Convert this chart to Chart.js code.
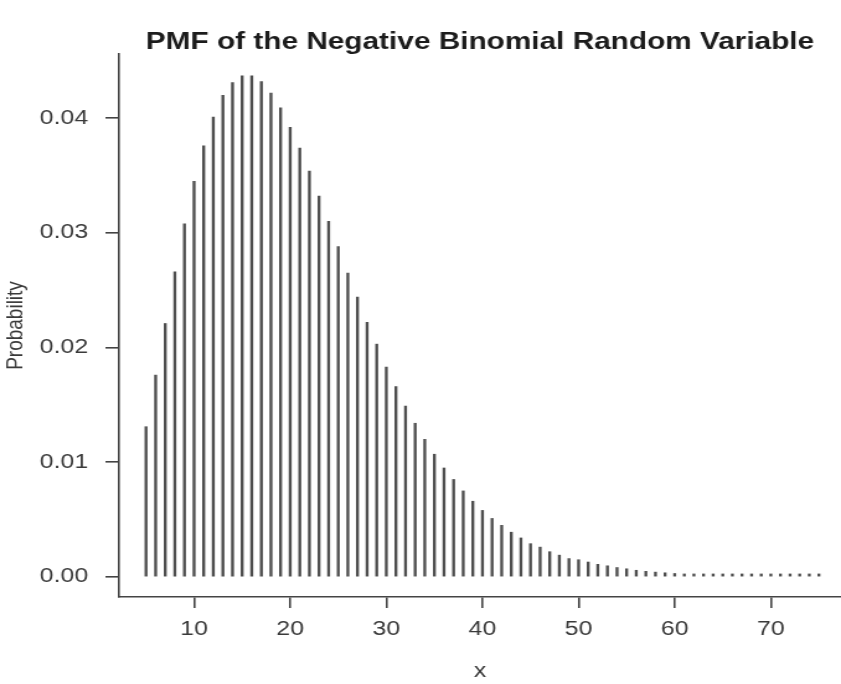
<!DOCTYPE html>
<html>
<head>
<meta charset="utf-8">
<script src="https://cdn.jsdelivr.net/npm/chart.js@4.4.1/dist/chart.umd.min.js"></script>
<style>
  html, body { margin: 0; padding: 0; background: #fff; overflow: hidden; }
</style>
</head>
<body>
<!-- the reference is a horizontally stretched R plot, so the canvas is drawn narrow and stretched -->
<canvas id="pmf" width="678" height="684" style="display:block;width:841px;height:684px"></canvas>
<script>
// values
const xValues = [5, 6, 7, 8, 9, 10, 11, 12, 13, 14, 15, 16, 17, 18, 19, 20,
  21, 22, 23, 24, 25, 26, 27, 28, 29, 30, 31, 32, 33, 34, 35, 36, 37, 38, 39, 40,
  41, 42, 43, 44, 45, 46, 47, 48, 49, 50, 51, 52, 53, 54, 55, 56, 57, 58, 59, 60,
  61, 62, 63, 64, 65, 66, 67, 68, 69, 70, 71, 72, 73, 74, 75];
const probabilities = [0.0131, 0.0176, 0.0221, 0.0266, 0.0308, 0.0345, 0.0376, 0.0401,
  0.0420, 0.0431, 0.0437, 0.0437, 0.0432, 0.0422, 0.0409, 0.0392,
  0.0374, 0.0354, 0.0332, 0.0310, 0.0288, 0.0265, 0.0244, 0.0222, 0.0203, 0.0183,
  0.0166, 0.0149, 0.0134, 0.0120, 0.0107, 0.0095, 0.0085, 0.0075, 0.0066, 0.0058,
  0.0051, 0.0045, 0.0039, 0.0034, 0.0029, 0.0026, 0.0022, 0.0019, 0.0016, 0.0015,
  0.0013, 0.0011, 0.00097, 0.00082, 0.00071, 0.00058, 0.00049, 0.00042, 0.00036, 0.00030,
  0.00026, 0.00022, 0.00018, 0.00016, 0.00013, 0.00011, 0.00009, 0.00008, 0.00007, 0.00006,
  0.00005, 0.00004, 0.00003, 0.00003, 0.00002];
const xTicks = [10, 20, 30, 40, 50, 60, 70];
const yTicks = [0, 0.01, 0.02, 0.03, 0.04];
const chartTitle = 'PMF of the Negative Binomial Random Variable';

const ink = '#3a3a3a';

// title centred over the plot region, like R's main title
const plotTitle = {
    id: 'plotTitle',
    afterDraw(chart) {
        const ctx = chart.ctx;
        const area = chart.chartArea;
        ctx.save();
        ctx.font = 'bold 24px "Liberation Sans", Arial, sans-serif';
        ctx.fillStyle = '#1c1c1c';
        ctx.textAlign = 'center';
        ctx.textBaseline = 'middle';
        ctx.fillText(chartTitle, (area.left + area.right) / 2, 42);
        ctx.restore();
    }
};

const ctx = document.getElementById('pmf').getContext('2d');

new Chart(ctx, {
    type: 'bar',
    data: {
        datasets: [{
            data: xValues.map((x, i) => ({ x: x, y: probabilities[i] })),
            backgroundColor: '#4e4e4e',
            barThickness: 1.7,
            minBarLength: 3,
            borderWidth: 0
        }]
    },
    options: {
        responsive: false,
        devicePixelRatio: 1,
        animation: false,
        layout: { padding: { top: 54, left: 0, right: 0, bottom: 0 } },
        plugins: {
            legend: { display: false },
            tooltip: { enabled: false },
            title: { display: false }
        },
        scales: {
            x: {
                type: 'linear',
                offset: false,
                min: 2.2,
                max: 77.3,
                afterBuildTicks: scale => { scale.ticks = xTicks.map(v => ({ value: v })); },
                afterFit: scale => { scale.height = 87; },
                grid: { display: true, offset: false, drawOnChartArea: false, drawTicks: true, tickLength: 11, color: '#444', lineWidth: 1.6 },
                border: { display: true, color: '#444', width: 1.6 },
                ticks: {
                    padding: 9,
                    color: ink,
                    font: { family: '"Liberation Sans", Arial, sans-serif', size: 20 },
                    maxRotation: 0,
                    callback: v => String(v)
                },
                title: {
                    display: true,
                    text: 'x',
                    color: ink,
                    font: { family: '"Liberation Sans", Arial, sans-serif', size: 20 },
                    padding: { top: 0, bottom: 1 }
                }
            },
            y: {
                type: 'linear',
                min: -0.00175,
                max: 0.0456,
                afterBuildTicks: scale => { scale.ticks = yTicks.map(v => ({ value: v })); },
                afterFit: scale => { scale.width = 96; },
                grid: { display: true, drawOnChartArea: false, drawTicks: true, tickLength: 11, color: '#444', lineWidth: 1.6 },
                border: { display: true, color: '#444', width: 1.6 },
                ticks: {
                    padding: 14,
                    color: ink,
                    font: { family: '"Liberation Sans", Arial, sans-serif', size: 20 },
                    callback: v => v.toFixed(2)
                },
                title: {
                    display: true,
                    text: 'Probability',
                    color: ink,
                    font: { family: '"Liberation Sans", Arial, sans-serif', size: 19 },
                    padding: { top: 1, bottom: 0 }
                }
            }
        }
    },
    plugins: [plotTitle]
});
</script>
</body>
</html>
